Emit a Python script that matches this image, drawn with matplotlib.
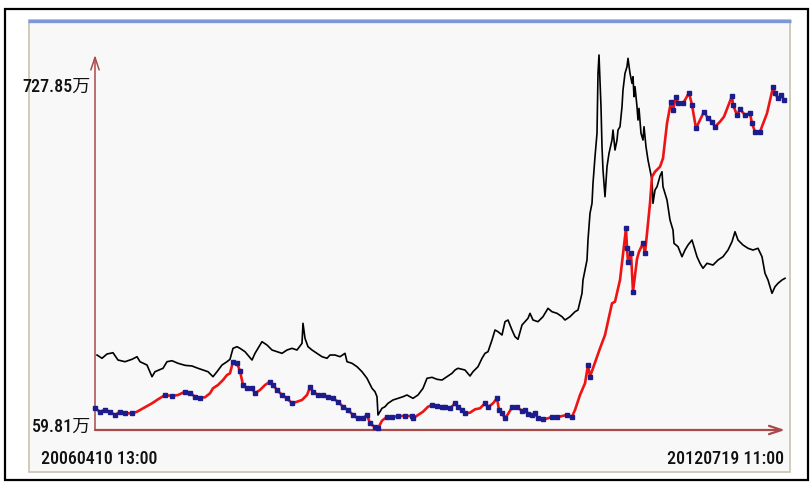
import matplotlib
matplotlib.use('Agg')
import matplotlib.pyplot as plt
from matplotlib.patches import Rectangle
import numpy as np

# K线序号 (0 = 20060410 13:00, 690 = 20120719 11:00)
black_x = [2, 7, 12, 18, 23, 30, 37, 42, 45, 52,
           57, 60, 68, 72, 77, 83, 90, 97, 103, 108,
           113, 118, 122, 127, 132, 135, 138, 142, 145, 150,
           157, 160, 163, 167, 172, 177, 182, 187, 192, 197,
           202, 207, 208, 210, 213, 217, 222, 227, 232, 235,
           240, 245, 250, 252, 257, 262, 267, 272, 277, 280,
           282, 283, 287, 290, 293, 295, 298, 303, 308, 312,
           315, 318, 323, 328, 332, 337, 342, 347, 352, 357,
           360, 363, 367, 370, 375, 378, 383, 387, 390, 393,
           397, 400, 403, 407, 410, 413, 417, 420, 423, 427,
           430, 433, 435, 438, 443, 448, 453, 457, 462, 467,
           470, 475, 480, 483, 487, 488, 492, 493, 495, 497,
           498, 500, 502, 503, 504, 506, 507, 508, 510, 512,
           514, 517, 518, 520, 522, 523, 525, 527, 528, 530,
           532, 533, 535, 537, 538, 539, 540, 542, 543, 544,
           546, 548, 549, 551, 552, 553, 555, 557, 558, 560,
           562, 563, 565, 567, 568, 572, 575, 578, 579, 583,
           587, 590, 593, 597, 598, 602, 605, 608, 612, 618,
           623, 628, 633, 637, 640, 643, 648, 653, 658, 663,
           667, 670, 673, 677, 680, 683, 687, 690]
# 数值(万)
black_v = [203.4, 197.0, 205.4, 207.9, 193.6, 190.3, 195.0, 200.1, 190.3, 183.8,
           160.9, 170.7, 177.4, 190.3, 192.2, 187.2, 183.2, 181.9, 177.4, 174.0,
           170.7, 160.9, 170.7, 183.8, 190.3, 195.0, 216.5, 219.7, 216.5, 209.9,
           193.6, 206.7, 216.5, 229.5, 223.0, 213.2, 209.9, 206.7, 213.2, 216.5,
           213.2, 226.3, 265.5, 236.1, 219.7, 213.2, 206.7, 200.1, 197.0, 203.4,
           203.4, 200.1, 206.7, 190.3, 187.2, 180.5, 170.7, 157.8, 138.2, 131.5,
           121.7, 85.9, 99.0, 102.1, 108.8, 111.3, 115.3, 118.6, 121.7, 125.1,
           121.7, 118.6, 125.1, 138.2, 157.8, 159.7, 155.8, 154.4, 160.9, 167.6,
           174.0, 177.4, 175.4, 174.0, 162.3, 170.7, 180.5, 197.0, 206.7, 209.9,
           232.8, 252.4, 249.1, 242.6, 268.7, 272.0, 252.4, 239.3, 234.2, 262.2,
           268.7, 275.3, 285.1, 272.0, 268.7, 278.5, 294.9, 288.2, 285.1, 278.5,
           272.0, 278.5, 288.2, 291.6, 324.3, 350.4, 389.5, 428.7, 481.0, 500.6,
           539.8, 591.9, 637.8, 755.3, 791.2, 689.9, 611.5, 565.9, 513.6, 572.3,
           598.6, 624.6, 644.2, 605.0, 624.6, 644.2, 650.7, 689.9, 722.6, 755.3,
           768.2, 784.7, 755.3, 735.7, 748.6, 709.5, 729.1, 689.9, 663.8, 686.7,
           637.8, 624.6, 650.7, 611.5, 598.6, 585.4, 565.9, 546.3, 500.6, 526.7,
           533.1, 539.8, 554.1, 562.5, 533.1, 507.1, 467.9, 448.3, 422.2, 415.6,
           396.0, 409.1, 418.9, 428.7, 422.2, 396.0, 383.1, 373.3, 383.1, 379.7,
           389.5, 396.0, 409.1, 425.4, 445.0, 428.7, 418.9, 412.5, 409.1, 412.5,
           396.0, 363.5, 350.4, 324.3, 337.2, 343.9, 350.4, 353.7]

red_x = [0, 5, 10, 15, 20, 25, 30, 37, 42, 48,
         57, 63, 70, 77, 83, 90, 95, 100, 105, 110,
         115, 118, 123, 128, 132, 135, 138, 142, 145, 148,
         152, 157, 160, 165, 170, 175, 178, 182, 187, 192,
         197, 202, 207, 212, 215, 218, 223, 228, 233, 238,
         243, 248, 253, 258, 263, 268, 272, 275, 280, 283,
         287, 292, 297, 303, 310, 317, 318, 323, 328, 333,
         337, 342, 347, 350, 355, 360, 363, 367, 370, 375,
         380, 385, 390, 393, 398, 402, 404, 407, 410, 413,
         417, 422, 427, 430, 433, 437, 440, 443, 448, 453,
         457, 462, 467, 472, 477, 480, 485, 490, 493, 495,
         505, 510, 517, 520, 525, 531, 532, 533, 536, 538,
         542, 544, 548, 550, 555, 557, 560, 565, 568, 572,
         576, 578, 581, 583, 588, 590, 594, 597, 601, 605,
         609, 613, 617, 620, 625, 629, 637, 638, 642, 645,
         650, 655, 657, 660, 665, 672, 678, 680, 683, 686,
         689]
red_v = [99.0, 92.3, 95.7, 92.3, 85.9, 92.3, 89.2, 89.2, 92.3, 99.0,
         108.8, 116.6, 125.1, 123.1, 125.1, 131.5, 129.6, 121.7, 119.8, 120.6,
         128.4, 138.2, 144.7, 154.4, 164.2, 167.6, 190.3, 187.2, 172.1, 144.7,
         138.2, 138.2, 128.4, 134.9, 144.7, 151.1, 144.7, 134.9, 125.1, 118.6,
         108.8, 111.9, 115.3, 125.1, 140.1, 131.5, 125.1, 125.1, 121.7, 118.6,
         111.9, 102.1, 95.7, 85.9, 79.4, 79.4, 85.9, 69.6, 61.8, 59.81,
         74.7, 82.5, 81.4, 83.9, 83.9, 83.9, 79.4, 85.9, 92.3, 102.1,
         105.5, 103.5, 102.1, 101.0, 99.0, 108.8, 102.1, 95.7, 89.2, 90.4,
         97.0, 99.0, 108.8, 101.0, 108.8, 118.6, 95.7, 89.2, 79.4, 87.8,
         101.0, 101.0, 94.3, 95.7, 87.8, 85.9, 89.2, 79.4, 77.4, 79.4,
         82.5, 81.4, 83.9, 85.9, 82.5, 95.7, 125.1, 148.0, 183.8, 160.9,
         216.5, 242.6, 304.7, 307.8, 350.4, 451.6, 412.5, 386.2, 402.7, 327.4,
         391.5, 405.8, 422.2, 402.7, 500.6, 552.7, 562.5, 572.3, 588.8, 657.3,
         699.7, 683.4, 709.5, 697.1, 696.5, 703.0, 717.3, 693.2, 647.6, 663.8,
         680.1, 667.1, 660.5, 650.7, 660.5, 670.3, 710.8, 693.2, 673.6, 684.8,
         673.6, 676.9, 657.3, 640.9, 640.9, 676.9, 727.85, 716.1, 706.3, 712.8,
         703.0]

y_labels = ['727.85万', '59.81万']
x_labels = ['20060410 13:00', '20120719 11:00']

fam = ['Roboto Condensed', 'Noto Sans CJK SC', 'DejaVu Sans']

W, H = 811, 484
fig = plt.figure(figsize=(W / 100, H / 100), dpi=100)
fig.patch.set_facecolor('white')

# 外框 (像素坐标)
bg = fig.add_axes([0, 0, 1, 1])
bg.set_xlim(0, W)
bg.set_ylim(H, 0)
bg.axis('off')
bg.add_patch(Rectangle((5, 9), 803, 471, fill=False, ec='black', lw=1.6))
bg.add_patch(Rectangle((29, 20), 761, 452, fc='#f8f8f8', ec='#cdc7b5', lw=1.3))
bg.plot([28, 791], [20.5, 20.5], color='#7d97d8', lw=2.4, solid_capstyle='butt')

ax = fig.add_axes([95 / W, 1 - 430 / H, 690 / W, 375 / H])
ax.set_xlim(0, 690)
ax.set_ylim(56.5, 791.2)
ax.axis('off')

axis_c = '#a84a4a'
ax.annotate('', xy=(0, 1), xytext=(0, 0), xycoords='axes fraction',
            arrowprops=dict(arrowstyle='->,head_length=0.9,head_width=0.3',
                            color=axis_c, lw=1.1, shrinkA=0, shrinkB=0), zorder=1)
ax.annotate('', xy=(1, 0), xytext=(0, 0), xycoords='axes fraction',
            arrowprops=dict(arrowstyle='->,head_length=0.9,head_width=0.3',
                            color=axis_c, lw=1.6, shrinkA=0, shrinkB=0), zorder=1)

ax.plot(black_x, black_v, color='black', lw=1.2, clip_on=False, zorder=3)

rv = np.array(red_v)
rx = np.array(red_x)
up = np.diff(rv) > 0
mid_rise = np.r_[False, up] & np.r_[up, False]
ax.plot(rx, rv, color='#ee1414', lw=1.9, zorder=4, clip_on=False)
ax.plot(rx[~mid_rise], rv[~mid_rise], ls='none', marker='s', ms=2.8,
        color='#1c1c8c', zorder=5, clip_on=False)

kw = dict(fontsize=13, family=fam, fontstretch='condensed', weight='medium', color='#111111')
bg.text(91, 87, y_labels[0], ha='right', va='center', **kw)
bg.text(91, 427, y_labels[1], ha='right', va='center', **kw)
bg.text(41, 459, x_labels[0], ha='left', va='center', **kw)
bg.text(784, 459, x_labels[1], ha='right', va='center', **kw)

fig.savefig('out.png', dpi=100)
